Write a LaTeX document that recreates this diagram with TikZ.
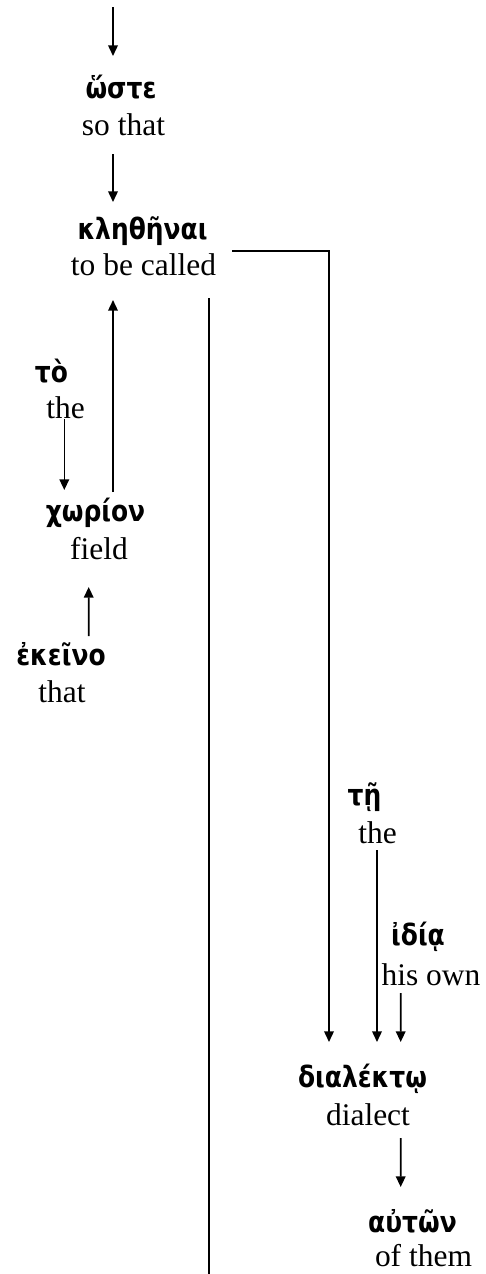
\documentclass[tikz,border=0pt]{standalone}
\usepackage{fontspec}
\setmainfont{Liberation Serif}
\newfontfamily\grk[Script=Greek,FakeStretch=0.85]{DejaVu Sans}
\usetikzlibrary{arrows.meta}
\begin{document}
\begin{tikzpicture}[x=0.375pt,y=-0.375pt,
  gr/.style={anchor=base,inner sep=0pt,font=\grk\bfseries\fontsize{11}{13}\selectfont},
  en/.style={anchor=base,inner sep=0pt,font=\fontsize{11.8}{14}\selectfont},
  arr/.style={line width=0.6pt,-{Triangle[length=4pt,width=3.6pt]}},
  ln/.style={line width=0.6pt}]
\useasboundingbox (0,0) rectangle (485,1274);
% words
\node[gr] (woste)   at (121,98)    {ὥστε};
\node[en] (sothat)  at (123.5,135) {so that};
\node[gr] (kl)      at (142.5,239) {κληθῆναι};
\node[en] (tobe)    at (143.5,275) {to be called};
\node[gr] (to)      at (51.5,382)  {τὸ};
\node[en] (the1)    at (65.5,418)  {the};
\node[gr] (chor)    at (95.5,521)  {χωρίον};
\node[en] (field)   at (99,559)    {field};
\node[gr] (ekeino)  at (61,665)    {ἐκεῖνο};
\node[en] (that)    at (62,702)    {that};
\node[gr] (te)      at (364.5,805) {τῇ};
\node[en] (the2)    at (377.5,843) {the};
\node[gr] (idia)    at (418,945)   {ἰδίᾳ};
\node[en] (hisown)  at (431,985)   {his own};
\node[gr] (dial)    at (362.5,1087){διαλέκτῳ};
\node[en] (dialect) at (368,1125)  {dialect};
\node[gr] (auton)   at (412.5,1232){αὐτῶν};
\node[en] (ofthem)  at (423.5,1266){of them};
% free ends
\coordinate (topin) at (113,7);
\coordinate (lbot)  at (209,1276);
% connectors
\draw[arr] (topin) -- ([shift={(-8,-42)}]woste.base);
\draw[arr] ([shift={(-10.5,19)}]sothat.base) -- ([shift={(-29.5,-37)}]kl.base);
\draw[arr] ([shift={(88.5,-24)}]tobe.base) -| ([shift={(-33.5,-45)}]dial.base);
\draw[ln]  ([shift={(65.5,23)}]tobe.base) -- (lbot);
\draw[arr] ([shift={(17.5,-29)}]chor.base) -- ([shift={(-29.5,61)}]kl.base);
\draw[arr] ([shift={(-1.2,1)}]the1.base) -- ([shift={(-31.2,-31)}]chor.base);
\draw[arr] ([shift={(27.7,-29)}]ekeino.base) -- ([shift={(-6.8,66)}]chor.base);
\draw[arr] ([shift={(-0.5,7)}]the2.base) -- ([shift={(14.5,-45)}]dial.base);
\draw[arr] ([shift={(-30.3,8)}]hisown.base) -- ([shift={(38.2,-45)}]dial.base);
\draw[arr] ([shift={(32.7,13)}]dialect.base) -- ([shift={(-11.8,-45)}]auton.base);
\end{tikzpicture}
\end{document}
